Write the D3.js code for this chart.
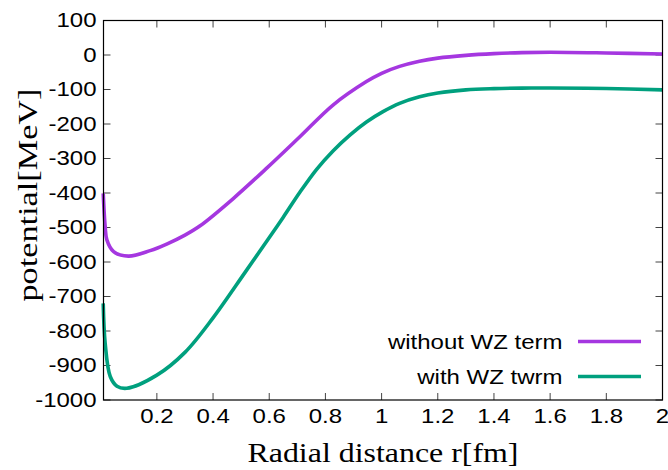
<!DOCTYPE html>
<html>
<head>
<meta charset="utf-8">
<script src="https://cdn.jsdelivr.net/npm/d3@7"></script>
<style>
  body { margin: 0; background: #fff; }
  svg { display: block; }
</style>
</head>
<body>
<svg id="chart" width="668" height="470"></svg>
<script>
// radial distance r [fm] and potential [MeV]
const rWithout = [0.009, 0.016, 0.022, 0.046, 0.099, 0.176, 0.235, 0.3, 0.354, 0.472, 0.591, 0.709, 0.827, 0.946, 1.0, 1.064, 1.135, 1.2, 1.3, 1.4, 1.5, 1.6, 1.8, 2.0];
const vWithout = [-401, -498, -536, -570, -583, -567, -548, -522, -495, -416, -328, -237, -145, -77, -53, -33, -18, -9, -1, 4, 7, 8, 6, 3];

const rWith = [0.009, 0.016, 0.034, 0.058, 0.093, 0.2, 0.3, 0.4, 0.514, 0.591, 0.65, 0.709, 0.768, 0.827, 0.887, 0.946, 1.005, 1.064, 1.135, 1.2, 1.3, 1.4, 1.5, 1.6, 1.8, 2.0];
const vWith = [-720, -836, -932, -960, -966, -928, -862, -762, -630, -540, -470, -398, -332, -278, -232, -194, -164, -140, -121, -110, -101, -97.5, -96, -95.5, -97, -101];

const seriesNames = ["without WZ term", "with WZ twrm"];
const seriesColors = ["#a537e0", "#00a07e"];

const xTicks = [0.2, 0.4, 0.6, 0.8, 1, 1.2, 1.4, 1.6, 1.8, 2];
const yTicks = [100, 0, -100, -200, -300, -400, -500, -600, -700, -800, -900, -1000];

const svg = d3.select("#chart");
const mLeft = 103.5, mRight = 662.5, mTop = 20.5, mBottom = 400;

const x = d3.scaleLinear().domain([0.01, 2]).range([mLeft, mRight]);
const y = d3.scaleLinear().domain([-1000, 100]).range([mBottom, mTop]);

const tickLen = 7;
const stretch = 1.2; // the reference text is drawn a bit wide
const sans = "'Liberation Sans', Arial, Helvetica, sans-serif";
const serif = "'Liberation Serif', 'Times New Roman', serif";

// places a horizontally stretched label
const label = (g, tx, ty, anchor, str, family, size) =>
  g.append("text")
    .attr("transform", `translate(${tx}, ${ty}) scale(${stretch}, 1)`)
    .attr("text-anchor", anchor)
    .style("font-family", family)
    .style("font-size", size)
    .text(str);

// ticks (inward, mirrored)
const ticks = svg.append("g").attr("stroke", "#444").attr("stroke-width", 1);
xTicks.forEach((t) => {
  ticks.append("line").attr("x1", x(t)).attr("x2", x(t)).attr("y1", mBottom).attr("y2", mBottom - tickLen);
  ticks.append("line").attr("x1", x(t)).attr("x2", x(t)).attr("y1", mTop).attr("y2", mTop + tickLen);
});
yTicks.forEach((t) => {
  ticks.append("line").attr("x1", mLeft).attr("x2", mLeft + tickLen).attr("y1", y(t)).attr("y2", y(t));
  ticks.append("line").attr("x1", mRight).attr("x2", mRight - tickLen).attr("y1", y(t)).attr("y2", y(t));
});

// tick labels
const tickLabels = svg.append("g");
xTicks.forEach((t) => label(tickLabels, x(t), mBottom + 23, "middle", t, sans, "20px"));
yTicks.forEach((t) => label(tickLabels, mLeft - 7, y(t) + 6.5, "end", t, sans, "20px"));

// curves
const line = d3.line()
  .x((d) => x(d[0]))
  .y((d) => y(d[1]))
  .curve(d3.curveCatmullRom.alpha(0.5));

const series = [
  d3.zip(rWithout, vWithout),
  d3.zip(rWith, vWith),
];

svg.append("g")
  .selectAll("path")
  .data(series)
  .join("path")
  .attr("fill", "none")
  .attr("stroke", (d, i) => seriesColors[i])
  .attr("stroke-width", 3.6)
  .attr("stroke-linejoin", "round")
  .attr("d", line);

// border
svg.append("rect")
  .attr("x", mLeft)
  .attr("y", mTop)
  .attr("width", mRight - mLeft)
  .attr("height", mBottom - mTop)
  .attr("fill", "none")
  .attr("stroke", "#000")
  .attr("stroke-width", 1.2);

// legend
const legend = svg.append("g");
seriesNames.forEach((name, i) => {
  const ly = 341.5 + i * 35;
  label(legend, 562.5, ly + 7, "end", name, sans, "20px");
  legend.append("line")
    .attr("x1", 578)
    .attr("x2", 641)
    .attr("y1", ly)
    .attr("y2", ly)
    .attr("stroke", seriesColors[i])
    .attr("stroke-width", 3.6);
});

// axis titles
svg.append("text")
  .attr("x", (mLeft + mRight) / 2)
  .attr("y", 461.5)
  .attr("text-anchor", "middle")
  .attr("textLength", 271)
  .attr("lengthAdjust", "spacingAndGlyphs")
  .style("font-family", serif)
  .style("font-size", "27px")
  .text("Radial distance r[fm]");

svg.append("text")
  .attr("transform", `translate(37, 195) rotate(-90)`)
  .attr("text-anchor", "middle")
  .attr("textLength", 213)
  .attr("lengthAdjust", "spacingAndGlyphs")
  .style("font-family", serif)
  .style("font-size", "27px")
  .text("potential[MeV]");
</script>
</body>
</html>
